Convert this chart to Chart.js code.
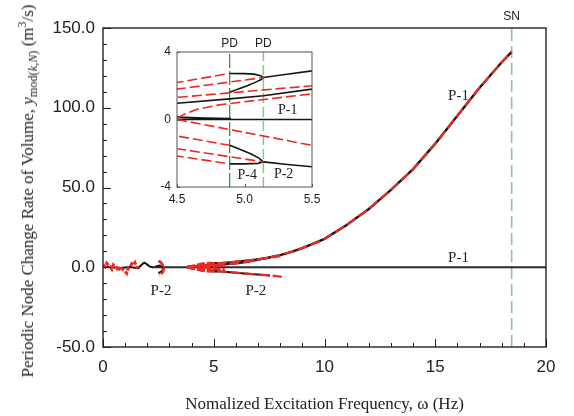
<!DOCTYPE html>
<html>
<head>
<meta charset="utf-8">
<script src="https://cdn.jsdelivr.net/npm/chart.js@4.4.0/dist/chart.umd.min.js"></script>
<style>
  html, body { margin: 0; padding: 0; background: #fff; }
  #wrap { position: relative; width: 574px; height: 416px; overflow: hidden; }
  #mainChart { position: absolute; left: 0; top: 0; }
  #insetChart { position: absolute; left: 140px; top: 30px; }
  #yTitle {
    position: absolute; left: 28px; top: 191px;
    transform: translate(-50%, -50%) rotate(-90deg);
    white-space: nowrap; font: 17px "Liberation Serif", serif; line-height: 1; color: #222;
  }
  #yTitle sub { font-size: 0.72em; vertical-align: -0.3em; }
  #yTitle sup { font-size: 0.7em; vertical-align: 0.6em; }
</style>
</head>
<body>
<div id="wrap">
  <canvas id="mainChart" width="574" height="416"></canvas>
  <canvas id="insetChart" width="190" height="185"></canvas>
  <div id="yTitle">Periodic Node Change Rate of Volume, <i>y</i><sub>mod(<i>k</i>,<i>N</i>)</sub> (m<sup>3</sup>/s)</div>
</div>
<script>
// Frequencies (Hz) and amplitudes

// big P-1 branch up to the saddle-node
const p1UpW = [3.8, 4.5, 4.89, 5.14, 5.5, 6, 6.5, 7, 7.5, 8, 8.5, 9, 9.5, 10, 11, 12, 13, 14, 15, 16, 17, 18, 18.45];
const p1UpY = [0, 0.96, 1.22, 1.41, 1.8, 2.5, 3.4, 4.8, 6.1, 7.6, 9.6, 12, 14.8, 17.8, 26.5, 36.5, 48.5, 61.5, 77.5, 95, 112.5, 128.5, 135];

// trivial P-1 branch on zero
const p1ZeroW = [2.2, 20];
const p1ZeroY = [0, 0];
const p1NearW = [4.5, 4.7, 4.9];
const p1NearY = [0.14, 0.08, 0.04];

// P-2 branches after the second PD
const p2UpW = [5.14, 5.3, 5.5, 6, 6.5, 7, 7.5, 8];
const p2UpY = [2.49, 2.67, 2.88, 3.5, 4.2, 5.0, 5.9, 6.9];
const p2LowW = [5.14, 5.3, 5.5, 6, 6.5, 7, 7.54, 8.07];
const p2LowY = [-2.51, -2.65, -2.8, -3.4, -4.0, -4.6, -5.1, -6.0];

// P-4 loops between the two PD points
const p4UpW = [4.89, 4.95, 5.02, 5.08, 5.12, 5.14, 5.12, 5.07, 5.0, 4.89];
const p4UpY = [1.61, 1.80, 2.0, 2.2, 2.35, 2.49, 2.6, 2.69, 2.72, 2.73];
const p4LowW = [4.89, 4.97, 5.05, 5.11, 5.14, 5.1, 5.0, 4.89];
const p4LowY = [-1.53, -1.78, -2.05, -2.3, -2.51, -2.6, -2.63, -2.63];

// red dashed fan (numerical results) near omega = 4.5
const fanAW = [3.8, 4.5, 4.89];  const fanAY = [0, 2.19, 2.73];
const fanBW = [3.8, 4.5, 5.14];  const fanBY = [0, 1.8, 2.49];
const fanCW = [3.8, 4.5, 5.5];   const fanCY = [0, 1.31, 2.0];
const fanDW = [4.5, 4.55, 4.65, 4.8, 5.0, 5.5]; const fanDY = [0.05, 0.3, 0.6, 0.85, 1.05, 1.52];
const fanEW = [4.5, 5.5];        const fanEY = [0, -1.53];
const fanFW = [3.8, 4.5, 4.89];  const fanFY = [0, -0.98, -1.53];
const fanGW = [3.8, 4.5, 5.14];  const fanGY = [0, -1.73, -2.51];
const fanHW = [3.8, 4.5, 4.89];  const fanHY = [0, -2.16, -2.63];

// low frequency region
const chaosRedW = [0.01, 0.1, 0.17, 0.25, 0.32, 0.4, 0.47, 0.55, 0.62, 0.7, 0.77, 0.85, 0.92, 1.0, 1.07, 1.14, 1.22, 1.3, 1.37, 1.44, 1.52, 1.59];
const chaosRedY = [1.5, 0.2, 2.5, 1.0, 0.4, -1.2, 1.5, 0.3, -0.6, -2.2, 0.4, -0.8, -1.7, -2.6, -3.8, -0.6, 0.4, 2.2, 1.5, 2.9, 0.4, -0.6];
const chaosBlackW = [0, 0.4, 0.8, 1.2, 1.59, 1.74, 1.86, 1.96, 2.11, 2.26];
const chaosBlackY = [0.3, 0, -0.4, 0.2, -0.6, 1.5, 2.9, 2.1, 0.4, 0];
const loopRedW = [2.5, 2.62, 2.7, 2.74, 2.7, 2.62, 2.52];
const loopRedY = [4.0, 3.0, 1.2, -1.2, -3.0, -4.2, -4.8];
const loopBlackW = [2.35, 2.55, 2.68, 2.72, 2.64, 2.5];
const loopBlackY = [0.2, 1.0, 0.2, -1.4, -2.8, -3.6];

// bifurcation markers
const snW = [18.45, 18.45];
const snY = [-50, 150];
const pd1W = [4.89, 4.89];
const pd2W = [5.14, 5.14];
const pdY = [-4, 4];

// tick labels
const mainXTicks = [0, 5, 10, 15, 20];
const mainYTicks = [-50, 0, 50, 100, 150];
const insetXTicks = [4.5, 5.0, 5.5];
const insetYTicks = [-4, 0, 4];

const RED = '#ec2a23';
const BLACK = '#151515';
const LIGHT_GREEN = '#8cc68c';
const DARK_GREEN = '#2f9a3a';

Chart.defaults.font.family = "'Liberation Sans', Arial, sans-serif";
Chart.defaults.color = '#222';

function pts(ws, ys) {
  return ws.map((w, i) => ({ x: w, y: ys[i] }));
}

function line(ws, ys, color, width, dash, order) {
  return {
    data: pts(ws, ys),
    showLine: true,
    borderColor: color,
    borderWidth: width,
    borderDash: dash || [],
    pointRadius: 0,
    pointHoverRadius: 0,
    fill: false,
    tension: 0,
    order: order
  };
}

// frame round the plot area and inward tick marks
function frameTicks(cfg) {
  return {
    id: 'frameTicks',
    beforeDraw(chart) {
      if (!cfg.background) return;
      const { ctx, chartArea: a } = chart;
      ctx.save();
      ctx.fillStyle = cfg.background;
      ctx.fillRect(a.left, a.top, a.right - a.left, a.bottom - a.top);
      ctx.restore();
    },
    afterDatasetsDraw(chart) {
      const { ctx, chartArea: a, scales: { x, y } } = chart;
      ctx.save();
      ctx.strokeStyle = cfg.color;
      ctx.lineWidth = cfg.width;
      ctx.strokeRect(a.left, a.top, a.right - a.left, a.bottom - a.top);
      ctx.lineWidth = 1;
      const nx = Math.round((x.max - x.min) / cfg.xStep);
      for (let i = 0; i <= nx; i++) {
        const v = x.min + i * cfg.xStep;
        const major = Math.abs(v / cfg.xMajor - Math.round(v / cfg.xMajor)) < 1e-6;
        const len = major ? cfg.major : cfg.minor;
        const px = Math.round(x.getPixelForValue(v)) + 0.5;
        ctx.beginPath(); ctx.moveTo(px, a.bottom); ctx.lineTo(px, a.bottom - len); ctx.stroke();
      }
      const ny = Math.round((y.max - y.min) / cfg.yStep);
      for (let i = 0; i <= ny; i++) {
        const v = y.min + i * cfg.yStep;
        const major = Math.abs(v / cfg.yMajor - Math.round(v / cfg.yMajor)) < 1e-6;
        const len = major ? cfg.major : cfg.minor;
        const py = Math.round(y.getPixelForValue(v)) + 0.5;
        ctx.beginPath(); ctx.moveTo(a.left, py); ctx.lineTo(a.left + len, py); ctx.stroke();
      }
      ctx.restore();
    }
  };
}

// text annotations placed in data coordinates
function textLabels(items) {
  return {
    id: 'textLabels',
    afterDraw(chart) {
      const { ctx, scales: { x, y } } = chart;
      ctx.save();
      ctx.textAlign = 'center';
      ctx.textBaseline = 'middle';
      items.forEach(it => {
        ctx.font = it.font;
        ctx.fillStyle = it.color || '#222';
        ctx.fillText(it.text, x.getPixelForValue(it.w), y.getPixelForValue(it.y));
      });
      ctx.restore();
    }
  };
}

const SERIF = "'Liberation Serif', 'Times New Roman', serif";
const SANS = "'Liberation Sans', Arial, sans-serif";

// ---------- main chart ----------
const mainDatasets = [
  line(snW, snY, LIGHT_GREEN, 1.6, [12, 5], 5),
  line(p1ZeroW, p1ZeroY, '#2a2a2a', 2.2, null, 3),
  line(chaosBlackW, chaosBlackY, BLACK, 2, null, 3),
  line(loopBlackW, loopBlackY, BLACK, 2.2, null, 3),
  line(p1UpW, p1UpY, BLACK, 2.4, null, 2),
  line(p1NearW, p1NearY, BLACK, 2, null, 2),
  line(p2UpW.slice(0, 7), p2UpY.slice(0, 7), BLACK, 2, null, 2),
  line(p2LowW.slice(0, 7), p2LowY.slice(0, 7), BLACK, 2, null, 2),
  line(p4UpW, p4UpY, BLACK, 2, null, 2),
  line(p4LowW, p4LowY, BLACK, 2, null, 2),
  line(chaosRedW, chaosRedY, RED, 3, [4, 1.5], 1),
  line(loopRedW, loopRedY, RED, 2.8, [7, 2], 1),
  line(p1UpW, p1UpY, RED, 2.2, [10, 4], 1),
  line(p2UpW, p2UpY, RED, 2.2, [10, 4], 1),
  line(p2LowW, p2LowY, RED, 2.2, [10, 4], 1),
  line(fanAW, fanAY, RED, 2.8, [8, 2], 1),
  line(fanBW, fanBY, RED, 2.8, [8, 2], 1),
  line(fanCW, fanCY, RED, 2.8, [8, 2], 1),
  line(fanDW, fanDY, RED, 2.8, [8, 2], 1),
  line(fanEW, fanEY, RED, 2.8, [8, 2], 1),
  line(fanFW, fanFY, RED, 2.8, [8, 2], 1),
  line(fanGW, fanGY, RED, 2.8, [8, 2], 1),
  line(fanHW, fanHY, RED, 2.8, [8, 2], 1)
];

new Chart(document.getElementById('mainChart'), {
  type: 'scatter',
  data: { datasets: mainDatasets },
  options: {
    responsive: false,
    animation: false,
    devicePixelRatio: 1,
    layout: { padding: { top: 28, right: 28, left: 0, bottom: 0 } },
    plugins: { legend: { display: false }, tooltip: { enabled: false } },
    scales: {
      x: {
        type: 'linear', min: 0, max: 20,
        afterFit(s) { s.height = 69; },
        afterBuildTicks(s) { s.ticks = mainXTicks.map(v => ({ value: v })); },
        ticks: { padding: 10, font: { size: 17 }, maxRotation: 0, autoSkip: false, color: '#222' },
        grid: { display: false, drawTicks: false },
        border: { display: false },
        title: {
          display: true,
          text: 'Nomalized Excitation Frequency, ω (Hz)',
          font: { family: SERIF, size: 17 },
          padding: { top: 0, bottom: 1 },
          color: '#222'
        }
      },
      y: {
        type: 'linear', min: -50, max: 150,
        afterFit(s) { s.width = 103; },
        afterBuildTicks(s) { s.ticks = mainYTicks.map(v => ({ value: v })); },
        ticks: { padding: 8, font: { size: 17 }, color: '#222', callback: v => v.toFixed(1) },
        grid: { display: false, drawTicks: false },
        border: { display: false }
      }
    }
  },
  plugins: [
    frameTicks({ color: '#222', width: 1.4, xStep: 1, xMajor: 5, yStep: 10, yMajor: 50, major: 8, minor: 4 }),
    textLabels([
      { text: 'SN', w: 18.45, y: 157, font: '12px ' + SANS },
      { text: 'P-1', w: 16.05, y: 107.5, font: '15px ' + SERIF },
      { text: 'P-1', w: 16.05, y: 5.6, font: '15px ' + SERIF },
      { text: 'P-2', w: 2.62, y: -15.2, font: '15px ' + SERIF },
      { text: 'P-2', w: 6.9, y: -15.2, font: '15px ' + SERIF }
    ])
  ]
});

// ---------- inset chart ----------
const insetDatasets = [
  line(pd1W, pdY, DARK_GREEN, 1.3, [14, 3], 5),
  line(pd2W, pdY, LIGHT_GREEN, 1.5, [10, 4], 5),
  line(p1ZeroW, p1ZeroY, BLACK, 1.6, null, 2),
  line(p1NearW, p1NearY, BLACK, 2, null, 2),
  line(p1UpW, p1UpY, BLACK, 1.6, null, 2),
  line(p2UpW, p2UpY, BLACK, 1.6, null, 2),
  line(p2LowW, p2LowY, BLACK, 1.6, null, 2),
  line(p4UpW, p4UpY, BLACK, 1.6, null, 2),
  line(p4LowW, p4LowY, BLACK, 1.6, null, 2),
  line(fanAW, fanAY, RED, 1.6, [10, 4], 1),
  line(fanBW, fanBY, RED, 1.6, [10, 4], 1),
  line(fanCW, fanCY, RED, 1.6, [10, 4], 1),
  line(fanDW, fanDY, RED, 1.6, [10, 4], 1),
  line(fanEW, fanEY, RED, 1.6, [10, 4], 1),
  line(fanFW, fanFY, RED, 1.6, [10, 4], 1),
  line(fanGW, fanGY, RED, 1.6, [10, 4], 1),
  line(fanHW, fanHY, RED, 1.6, [10, 4], 1)
];

new Chart(document.getElementById('insetChart'), {
  type: 'scatter',
  data: { datasets: insetDatasets },
  options: {
    responsive: false,
    animation: false,
    devicePixelRatio: 1,
    layout: { padding: { top: 22, right: 18, left: 0, bottom: 0 } },
    plugins: { legend: { display: false }, tooltip: { enabled: false } },
    scales: {
      x: {
        type: 'linear', min: 4.5, max: 5.5,
        afterFit(s) { s.height = 28; },
        afterBuildTicks(s) { s.ticks = insetXTicks.map(v => ({ value: v })); },
        ticks: { padding: 5, font: { size: 12 }, maxRotation: 0, autoSkip: false, color: '#222', callback: v => v.toFixed(1) },
        grid: { display: false, drawTicks: false },
        border: { display: false }
      },
      y: {
        type: 'linear', min: -4, max: 4,
        afterFit(s) { s.width = 37; },
        afterBuildTicks(s) { s.ticks = insetYTicks.map(v => ({ value: v })); },
        ticks: { padding: 6, font: { size: 12 }, color: '#222', callback: v => String(v) },
        grid: { display: false, drawTicks: false },
        border: { display: false }
      }
    }
  },
  plugins: [
    frameTicks({ background: '#fff', color: '#555', width: 1, xStep: 0.5, xMajor: 0.5, yStep: 4, yMajor: 4, major: 3, minor: 3 }),
    textLabels([
      { text: 'PD', w: 4.89, y: 4.47, font: '12px ' + SANS },
      { text: 'PD', w: 5.14, y: 4.47, font: '12px ' + SANS },
      { text: 'P-1', w: 5.32, y: 0.57, font: '14px ' + SERIF },
      { text: 'P-4', w: 5.02, y: -3.3, font: '14px ' + SERIF },
      { text: 'P-2', w: 5.29, y: -3.25, font: '14px ' + SERIF }
    ])
  ]
});
</script>
</body>
</html>
